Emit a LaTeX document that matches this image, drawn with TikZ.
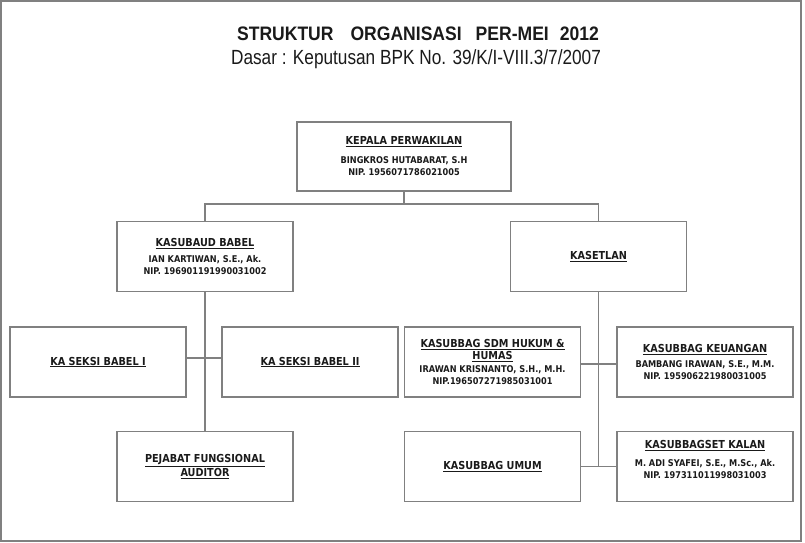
\documentclass[tikz,border=0pt]{standalone}
\usepackage{fontspec}
\usepackage{tikz}
\usetikzlibrary{positioning, calc}
\setmainfont{Liberation Sans}
\newfontfamily\boxfont[FakeStretch=0.88]{DejaVu Sans}
\newfontfamily\titlefont[FakeStretch=0.9]{Liberation Sans}
\newfontfamily\basisfont[FakeStretch=0.84]{Liberation Sans}
\definecolor{frame}{HTML}{808080}
\definecolor{ink}{HTML}{1a1a1a}
\newcommand{\head}[1]{\fontsize{11}{13.5}\selectfont\underline{#1}}
\newcommand{\who}{\fontsize{9.3}{12}\selectfont}

\begin{document}
\begin{tikzpicture}[x=1pt, y=-1pt,
    unit/.style={draw=frame, line width=1.3pt, align=center, text=ink,
      font=\boxfont\bfseries, minimum width=176pt, minimum height=70pt, inner sep=0pt},
    link/.style={draw=frame, line width=1.3pt}]
    \useasboundingbox (0,0) rectangle (805,542);
    \draw[frame, line width=2pt] (1,1) rectangle (801,541);

    % title
    \node[anchor=base, text=ink, font=\titlefont\bfseries\fontsize{19.5}{22}\selectfont] (title) at (418,40.7)
      {STRUKTUR\hspace{17pt}ORGANISASI\hspace{14pt}PER-MEI\hspace{11pt}2012};
    \node[anchor=base, text=ink, font=\basisfont\fontsize{20.5}{24}\selectfont] (basis) at (416,64)
      {Dasar : Keputusan BPK No. 39/K/I-VIII.3/7/2007};

    % top level
    \node[unit, minimum width=214pt, minimum height=69pt] (kepala) at (404,156.5)
      {\head{KEPALA PERWAKILAN}\\[7pt] \who BINGKROS HUTABARAT, S.H\\ \who NIP. 1956071786021005};

    % second level
    \node[unit] (kasubaud) at (205,256.5)
      {\head{KASUBAUD BABEL}\\[4pt] \who IAN KARTIWAN, S.E., Ak.\\ \who NIP. 196901191990031002};
    \node[unit] (kasetlan) at (598.5,256.5) {\head{KASETLAN}};

    % third level
    \node[unit] (babelI) at (98,362) {\head{KA SEKSI BABEL I}};
    \node[unit] (babelII) at (310,362) {\head{KA SEKSI BABEL II}};
    \node[unit] (sdm) at (492.5,362)
      {\head{KASUBBAG SDM HUKUM \&}\\ \head{HUMAS}\\[1pt] \who IRAWAN KRISNANTO, S.H., M.H.\\ \who NIP.196507271985031001};
    \node[unit] (keuangan) at (705,362)
      {\head{KASUBBAG KEUANGAN}\\[3pt] \who BAMBANG IRAWAN, S.E., M.M.\\ \who NIP. 195906221980031005};

    % bottom level
    \node[unit] (pejabat) at (205,466.5) {\head{PEJABAT FUNGSIONAL}\\ \head{AUDITOR}};
    \node[unit] (umum) at (492.5,466.5) {\head{KASUBBAG UMUM}};
    \node[unit] (kalan) at (705,466.5)
      {\head{KASUBBAGSET KALAN}\\[6pt] \who M. ADI SYAFEI, S.E., M.Sc., Ak.\\ \who NIP. 197311011998031003\\[2pt] \who\mbox{}};

    % connectors
    \coordinate (split) at (404,204);
    \draw[link] (kepala.south) -- (split);
    \draw[link] (kasubaud.north) |- (split) -| (kasetlan.north);
    \draw[link] (kasubaud.south) -- (pejabat.north);
    \draw[link] ([yshift=4pt]babelI.east) -- ([yshift=4pt]babelII.west);
    \draw[link] (kasetlan.south) -- (kasetlan.south |- umum.east);
    \draw[link] ([yshift=-2pt]sdm.east) -- ([yshift=-2pt]keuangan.west);
    \draw[link] (umum.east) -- (kalan.west);
\end{tikzpicture}
\end{document}
